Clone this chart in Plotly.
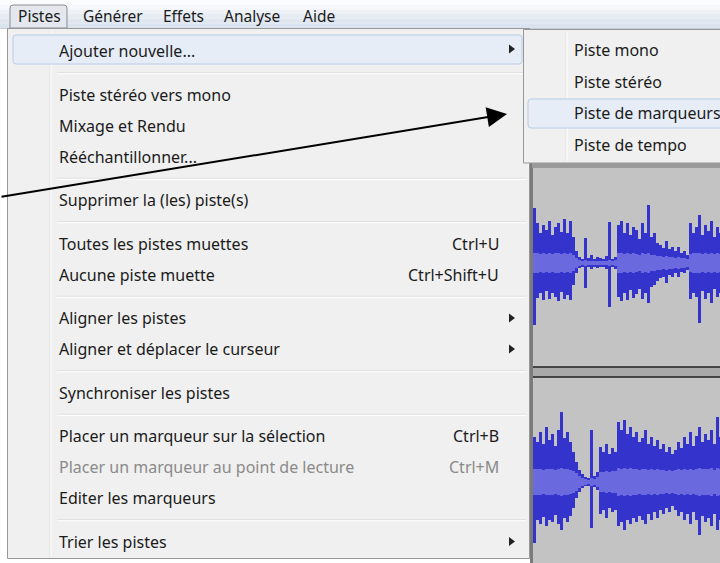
import plotly.graph_objects as go

# ---------------- data ----------------
menubar_labels = ["Pistes", "Générer", "Effets", "Analyse", "Aide"]
menu_groups = [
    ["Ajouter nouvelle..."],
    ["Piste stéréo vers mono", "Mixage et Rendu", "Rééchantillonner..."],
    ["Supprimer la (les) piste(s)"],
    ["Toutes les pistes muettes", "Aucune piste muette"],
    ["Aligner les pistes", "Aligner et déplacer le curseur"],
    ["Synchroniser les pistes"],
    ["Placer un marqueur sur la sélection", "Placer un marqueur au point de lecture", "Editer les marqueurs"],
    ["Trier les pistes"],
]
shortcut_items = ["Toutes les pistes muettes", "Aucune piste muette",
                  "Placer un marqueur sur la sélection", "Placer un marqueur au point de lecture"]
shortcut_keys = ["Ctrl+U", "Ctrl+Shift+U", "Ctrl+B", "Ctrl+M"]
disabled_items = ["Placer un marqueur au point de lecture"]
submenu_items = ["Ajouter nouvelle...", "Aligner les pistes", "Aligner et déplacer le curseur", "Trier les pistes"]
highlighted_item = "Ajouter nouvelle..."
sub_labels = ["Piste mono", "Piste stéréo", "Piste de marqueurs", "Piste de tempo"]
sub_highlight = "Piste de marqueurs"

# waveform envelopes (pixels above / below track centre), one value per 3 px column
track1_top = [55, 40, 30, 38, 33, 42, 28, 36, 40, 31, 44, 30, 42, 26,
              12, 6, 4, 25, 5, 8, 4, 6, 5, 4, 7, 41, 4, 6,
              38, 42, 30, 40, 28, 36, 33, 24, 40, 30, 58,
              26, 30, 20, 18, 15, 22, 14, 16, 12, 16, 10, 12, 8,
              40, 30, 36, 48, 28, 38, 32, 42, 26, 36, 30]
track1_bottom = [62, 35, 30, 37, 28, 36, 30, 34, 38, 29, 36, 32, 37, 22,
                 10, 5, 4, 25, 4, 6, 4, 5, 4, 4, 6, 44, 4, 6,
                 34, 38, 30, 37, 27, 35, 31, 26, 36, 30, 40,
                 24, 22, 18, 15, 14, 20, 12, 14, 10, 14, 9, 10, 7,
                 36, 30, 34, 60, 28, 36, 30, 40, 26, 34, 30]
track1_rms = [10, 10, 9, 10, 9, 10, 9, 10, 10, 9, 10, 9, 10, 8,
              5, 3, 2, 3, 2, 2, 2, 2, 2, 2, 2, 3, 2, 3,
              10, 10, 9, 10, 9, 10, 9, 8, 10, 9, 10,
              8, 8, 7, 7, 6, 7, 6, 6, 5, 6, 5, 5, 4,
              9, 10, 10, 10, 9, 10, 9, 10, 9, 10, 9]
track2_top = [45, 40, 50, 38, 55, 42, 48, 36, 52, 70, 44, 50, 40, 30,
              20, 12, 8, 5, 4, 52, 6, 10, 35, 30, 38, 28, 34, 30,
              60, 52, 62, 48, 55, 45, 50, 40, 44, 52, 38,
              45, 36, 42, 33, 38, 30, 35, 28, 32, 40, 34, 45, 38,
              50, 36, 46, 55, 40, 48, 42, 52, 38, 65, 45]
track2_bottom = [61, 38, 42, 35, 44, 38, 40, 33, 42, 48, 36, 40, 34, 26,
                 16, 10, 6, 4, 4, 46, 5, 8, 32, 28, 36, 26, 30, 28,
                 44, 40, 48, 38, 42, 36, 40, 34, 38, 42, 32,
                 38, 30, 36, 28, 32, 26, 30, 24, 28, 34, 30, 38, 32,
                 42, 30, 38, 53, 34, 40, 36, 44, 32, 48, 38]
track2_rms = [13, 13, 13, 12, 13, 13, 13, 12, 13, 14, 13, 13, 12, 11,
              9, 6, 4, 3, 2, 4, 3, 5, 10, 10, 11, 10, 11, 11,
              14, 13, 14, 13, 14, 13, 13, 12, 13, 13, 12,
              13, 12, 13, 12, 12, 11, 12, 11, 12, 13, 12, 13, 12,
              13, 12, 13, 14, 13, 13, 13, 14, 12, 14, 13]

# ---------------- layout constants ----------------
W, H = 720, 563
FONT = "Noto Sans"
FS = 16
FS_BAR = 15.5
TXT = "#1b1b1b"
GRAY_TXT = "#8a8a8a"
MENU_BG = "#f0f0f0"
BORDER = "#979797"

fig = go.Figure()
shapes = []
ann = []

def rect(x0, y0, x1, y1, fill, line=None, lw=1, layer="below"):
    shapes.append(dict(type="rect", xref="x", yref="y", x0=x0, y0=y0, x1=x1, y1=y1,
                       fillcolor=fill, line=dict(color=line or "rgba(0,0,0,0)", width=lw if line else 0),
                       layer=layer))

def hline(x0, x1, y, color, lw=1, layer="below"):
    shapes.append(dict(type="line", xref="x", yref="y", x0=x0, x1=x1, y0=y, y1=y,
                       line=dict(color=color, width=lw), layer=layer))

def vline(x, y0, y1, color, lw=1, layer="below"):
    shapes.append(dict(type="line", xref="x", yref="y", x0=x, x1=x, y0=y0, y1=y1,
                       line=dict(color=color, width=lw), layer=layer))

def text(x, y, s, color=TXT, anchor="left", size=FS):
    ann.append(dict(x=x, y=y, xref="x", yref="y", text=s, showarrow=False,
                    xanchor=anchor, yanchor="middle",
                    font=dict(family=FONT, size=size, color=color)))

# menu bar gradient
bar_cols = ["#fbfcfd", "#f5f7fa", "#eef2f7", "#e7ecf3", "#e0e7f0", "#dbe3ee"]
step = 28 / len(bar_cols)
for i, c in enumerate(bar_cols):
    rect(0, i * step, W, (i + 1) * step, c)
hline(0, W, 28.5, "#c5ceda")

# "Pistes" pressed box
shapes.append(dict(type="path", xref="x", yref="y",
                   path="M 10 28 L 10 8 Q 10 5 13 5 L 64 5 Q 67 5 67 8 L 67 28 Z",
                   fillcolor="#e4e8ee", line=dict(color="#8a8d92", width=1), layer="below"))
menubar_x = [16, 81, 161, 222, 301]
for lab, x in zip(menubar_labels, menubar_x):
    text(x, 16, lab, size=FS_BAR)

# waveform panel
rect(530, 163, W, H, "#c3c3c3")
vline(531.5, 163, H, "#7b7b7b", lw=3)
rect(532, 163, W, 168, "#9a9a9a")
rect(533, 367, W, 377, "#a9a9a9")
hline(533, W, 367, "#202020", lw=1.5)
hline(533, W, 377, "#202020", lw=1.5)

# waveforms via bar traces
def add_wave(top, bottom, rms, centre):
    xs = [534.5 + 3 * i for i in range(len(top))]
    fig.add_trace(go.Bar(x=xs, y=[t + b for t, b in zip(top, bottom)],
                         base=[centre - t for t in top], width=3,
                         marker=dict(color="#3434cc", line=dict(width=0)),
                         hoverinfo="skip", showlegend=False))
    fig.add_trace(go.Bar(x=xs, y=[2 * r for r in rms],
                         base=[centre - r for r in rms], width=3,
                         marker=dict(color="#6a6ade", line=dict(width=0)),
                         hoverinfo="skip", showlegend=False))

add_wave(track1_top, track1_bottom, track1_rms, 263)
add_wave(track2_top, track2_bottom, track2_rms, 482)

# main dropdown menu
MX0, MX1, MY0, MY1 = 7.5, 529.5, 28.5, 558.5
rect(MX0, MY0, MX1, MY1, MENU_BG, line=BORDER)
vline(50, MY0 + 2, MY1 - 2, "#e0e0e0")
vline(51, MY0 + 2, MY1 - 2, "#ffffff")

row_y = {}
y = 51
sep_ys = []
for gi, grp in enumerate(menu_groups):
    if gi > 0:
        sep_ys.append(y - 31 + 21.75)
        y += 12.5
    for item in grp:
        row_y[item] = y
        y += 31

for sy in sep_ys:
    hline(57, 526, sy, "#dcdcdc")
    hline(57, 526, sy + 1, "#ffffff")

hy = row_y[highlighted_item]
shapes.append(dict(type="path", xref="x", yref="y",
                   path=f"M 13 {hy-13} Q 13 {hy-16} 16 {hy-16} L 519 {hy-16} Q 522 {hy-16} 522 {hy-13} "
                        f"L 522 {hy+10} Q 522 {hy+13} 519 {hy+13} L 16 {hy+13} Q 13 {hy+13} 13 {hy+10} Z",
                   fillcolor="#e6edf7", line=dict(color="#b8cde6", width=1), layer="below"))

for item, yy in row_y.items():
    col = GRAY_TXT if item in disabled_items else TXT
    text(57, yy, item, color=col)
for item, key in zip(shortcut_items, shortcut_keys):
    col = GRAY_TXT if item in disabled_items else TXT
    text(501, row_y[item], key, color=col, anchor="right")

arrow_y = [row_y[i] - 2 if i == highlighted_item else row_y[i] for i in submenu_items]
fig.add_trace(go.Scatter(x=[511] * len(arrow_y), y=arrow_y, mode="markers",
                         marker=dict(symbol="triangle-right", size=8, color="#222222"),
                         hoverinfo="skip", showlegend=False))

# sub menu
SX0, SY0, SX1, SY1 = 523.5, 29.5, 722, 163
rect(SX0, SY0, SX1, SY1, MENU_BG, line=BORDER)
vline(566, SY0 + 2, SY1 - 2, "#e0e0e0")
vline(567, SY0 + 2, SY1 - 2, "#ffffff")
sub_y = [50 + 31.5 * i for i in range(len(sub_labels))]
for lab, yy in zip(sub_labels, sub_y):
    if lab == sub_highlight:
        shapes.append(dict(type="path", xref="x", yref="y",
                           path=f"M 528 {yy-11} Q 528 {yy-14} 531 {yy-14} L 722 {yy-14} L 722 {yy+15} "
                                f"L 531 {yy+15} Q 528 {yy+15} 528 {yy+12} Z",
                           fillcolor="#e6edf7", line=dict(color="#b8cde6", width=1), layer="below"))
    text(572, yy, lab)

# pointing arrow
ann.append(dict(x=507, y=114, xref="x", yref="y", ax=0, ay=197, axref="x", ayref="y",
                text="", showarrow=True, arrowhead=2, arrowsize=2, arrowwidth=2,
                arrowcolor="#000000", standoff=0))

fig.update_layout(
    width=W, height=H, autosize=False,
    margin=dict(l=0, r=0, t=0, b=0),
    paper_bgcolor="#ffffff", plot_bgcolor="#ffffff",
    xaxis=dict(range=[0, W], visible=False, fixedrange=True),
    yaxis=dict(range=[H, 0], visible=False, fixedrange=True),
    barmode="overlay", bargap=0,
    shapes=shapes, annotations=ann, showlegend=False,
)

fig.write_html("out.html", config={"displayModeBar": False},
               post_script="document.body.style.margin='0px';document.body.style.overflow='hidden';")
